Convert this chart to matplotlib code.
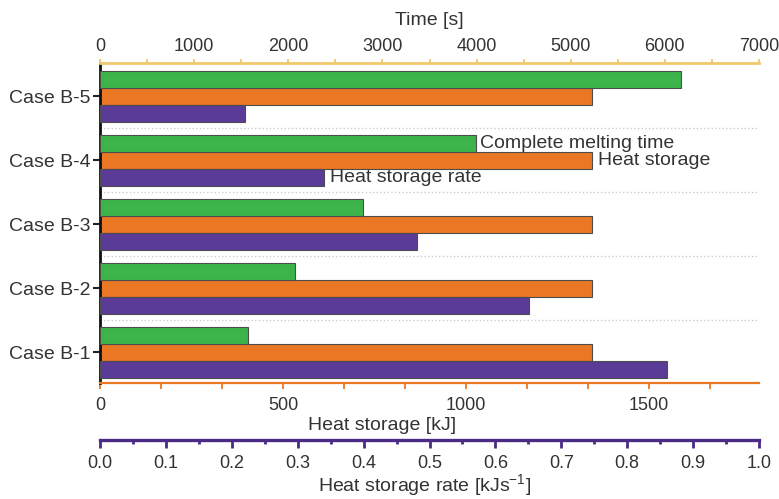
import numpy as np
import matplotlib
matplotlib.use("Agg")
import matplotlib.pyplot as plt
from matplotlib.ticker import MultipleLocator, FormatStrFormatter

cases = ["Case B-1", "Case B-2", "Case B-3", "Case B-4", "Case B-5"]
melt_time = [1570, 2070, 2795, 3995, 6170]          # s
heat_storage = [1344, 1344, 1344, 1344, 1344]       # kJ
storage_rate = [0.860, 0.651, 0.481, 0.340, 0.220]  # kJ/s

green = "#3cb44a"
orange = "#ea7723"
purple = "#5b3b98"
edge = "#4d4d4d"
text_c = "#333333"

plt.rcParams["font.family"] = ["Liberation Sans", "DejaVu Sans"]
plt.rcParams["mathtext.fontset"] = "custom"
plt.rcParams["mathtext.rm"] = "Liberation Sans"
plt.rcParams["font.size"] = 13

fig = plt.figure(figsize=(7.79, 4.99), dpi=100)
ax = fig.add_axes([0.1284, 0.2325, 0.8459, 0.6412])
ax_t = ax.twiny()
ax_r = ax.twiny()

y = np.arange(len(cases))
h = 0.266

ax_t.barh(y + h, melt_time, height=h, color=green, edgecolor=edge, linewidth=0.8)
ax.barh(y, heat_storage, height=h, color=orange, edgecolor=edge, linewidth=0.8)
ax_r.barh(y - h, storage_rate, height=h, color=purple, edgecolor=edge, linewidth=0.8)

for sep in y[:-1] + 0.5:
    ax.axhline(sep, color="#cccccc", linestyle=":", linewidth=1.0, zorder=0)

ax.set_ylim(-0.477, 4.523)
ax.set_yticks(y)
ax.set_yticklabels(cases, color=text_c, fontsize=14)
ax.tick_params(axis="y", length=5, width=1.5, pad=2, color="#222222")

# heat storage axis (bottom, orange)
ax.set_xlim(0, 1800)
ax.xaxis.set_major_locator(MultipleLocator(500))
ax.xaxis.set_minor_locator(MultipleLocator(500 / 3))
ax.tick_params(axis="x", which="both", length=4, width=1.3, color=orange,
               labelcolor=text_c, pad=6)
for s in ["top", "right"]:
    ax.spines[s].set_visible(False)
ax.spines["left"].set_linewidth(2)
ax.spines["left"].set_color("#111111")
ax.spines["bottom"].set_color(orange)
ax.spines["bottom"].set_linewidth(1.6)
ax.set_xlabel("Heat storage [kJ]", color=text_c, fontsize=14)
ax.xaxis.set_label_coords(0.428, -0.105)

# time axis (top, gold)
ax_t.set_xlim(0, 7000)
ax_t.xaxis.set_major_locator(MultipleLocator(1000))
ax_t.xaxis.set_minor_locator(MultipleLocator(500))
ax_t.xaxis.set_ticks_position("top")
ax_t.tick_params(axis="x", which="both", length=3, width=1.3, color="#eec56a",
                 labelcolor=text_c, pad=3)
for s in ["left", "right", "bottom"]:
    ax_t.spines[s].set_visible(False)
ax_t.spines["top"].set_color("#f0c96e")
ax_t.spines["top"].set_linewidth(2)
ax_t.set_xlabel("Time [s]", color=text_c, fontsize=14)
ax_t.xaxis.set_label_coords(0.5, 1.12)

# heat storage rate axis (lower, purple)
ax_r.set_xlim(0, 1.0)
ax_r.xaxis.set_major_locator(MultipleLocator(0.1))
ax_r.xaxis.set_minor_locator(MultipleLocator(0.05))
ax_r.xaxis.set_major_formatter(FormatStrFormatter("%.1f"))
ax_r.xaxis.set_ticks_position("bottom")
ax_r.xaxis.set_label_position("bottom")
ax_r.spines["bottom"].set_position(("outward", 41))
for s in ["left", "right", "top"]:
    ax_r.spines[s].set_visible(False)
ax_r.spines["bottom"].set_color("#4a2c86")
ax_r.spines["bottom"].set_linewidth(2.4)
ax_r.tick_params(axis="x", which="major", length=6, width=2, color="#4a2c86",
                 labelcolor=text_c, pad=5)
ax_r.tick_params(axis="x", which="minor", length=3, width=2, color="#4a2c86")
ax_r.set_xlabel("Heat storage rate [kJs$^{-1}$]", color=text_c, fontsize=14)
ax_r.xaxis.set_label_coords(0.493, -0.28)

# labels next to the Case B-4 bars
i = 3
ax_t.annotate("Complete melting time", (melt_time[i], y[i] + h), xytext=(3, 0),
              textcoords="offset points", va="center", ha="left", color=text_c,
              fontsize=14)
ax.annotate("Heat storage", (heat_storage[i], y[i]), xytext=(4, 0),
            textcoords="offset points", va="center", ha="left", color=text_c,
            fontsize=14)
ax_r.annotate("Heat storage rate", (storage_rate[i], y[i] - h), xytext=(4, 0),
              textcoords="offset points", va="center", ha="left", color=text_c,
              fontsize=14)

fig.savefig("out.png", dpi=100)
